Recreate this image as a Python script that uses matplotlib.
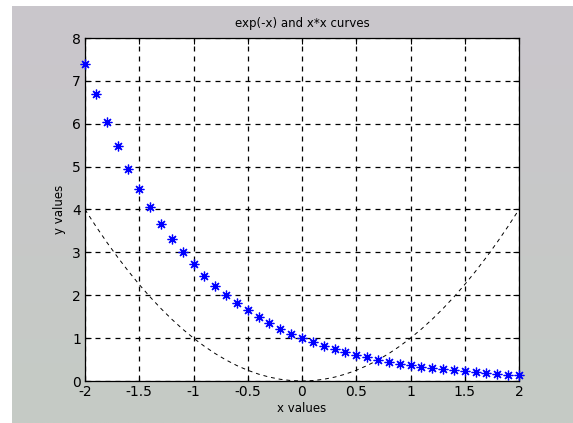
import numpy as np
import matplotlib
matplotlib.use("Agg")
import matplotlib.pyplot as plt

# sample points, step 0.1 from -2 to 2
x_vals = [-2.0, -1.9, -1.8, -1.7, -1.6, -1.5, -1.4, -1.3, -1.2, -1.1, -1.0,
          -0.9, -0.8, -0.7, -0.6, -0.5, -0.4, -0.3, -0.2, -0.1, 0.0,
          0.1, 0.2, 0.3, 0.4, 0.5, 0.6, 0.7, 0.8, 0.9, 1.0,
          1.1, 1.2, 1.3, 1.4, 1.5, 1.6, 1.7, 1.8, 1.9, 2.0]
exp_vals = [7.389, 6.686, 6.050, 5.474, 4.953, 4.482, 4.055, 3.669, 3.320, 3.004, 2.718,
            2.460, 2.226, 2.014, 1.822, 1.649, 1.492, 1.350, 1.221, 1.105, 1.000,
            0.905, 0.819, 0.741, 0.670, 0.607, 0.549, 0.497, 0.449, 0.407, 0.368,
            0.333, 0.301, 0.273, 0.247, 0.223, 0.202, 0.183, 0.165, 0.150, 0.135]
sq_vals = [4.00, 3.61, 3.24, 2.89, 2.56, 2.25, 1.96, 1.69, 1.44, 1.21, 1.00,
           0.81, 0.64, 0.49, 0.36, 0.25, 0.16, 0.09, 0.04, 0.01, 0.00,
           0.01, 0.04, 0.09, 0.16, 0.25, 0.36, 0.49, 0.64, 0.81, 1.00,
           1.21, 1.44, 1.69, 1.96, 2.25, 2.56, 2.89, 3.24, 3.61, 4.00]
x_ticks = [-2, -1.5, -1, -0.5, 0, 0.5, 1, 1.5, 2]
x_ticklabels = ["-2", "-1.5", "-1", "-0.5", "0", "0.5", "1", "1.5", "2"]
y_ticks = [0, 1, 2, 3, 4, 5, 6, 7, 8]

W, H = 573, 423
fig = plt.figure(figsize=(W / 100, H / 100), dpi=100)
fig.patch.set_facecolor("white")

# gray window panel with a faint top-to-bottom tint
bg = fig.add_axes([12 / W, 0, 1 - 12 / W, 1 - 6 / H], zorder=-10)
top = np.array([202, 198, 204]) / 255
bot = np.array([197, 203, 197]) / 255
t = np.linspace(0, 1, 256)[:, None]
grad = top[None, None, :] * (1 - t[..., None]) + bot[None, None, :] * t[..., None]
bg.imshow(np.repeat(grad, 2, axis=1), aspect="auto", extent=[0, 1, 0, 1])
bg.set_axis_off()

ax = fig.add_axes([85 / W, 1 - 381 / H, (519 - 85) / W, (381 - 38) / H])
ax.set_facecolor("white")

ax.plot(x_vals, sq_vals, color="black", lw=0.7, ls=(0, (4, 4)), zorder=3)
ax.plot(x_vals, exp_vals, ls="none", marker=(8, 2, 0), markersize=7,
        markeredgewidth=0.9, color="blue", markeredgecolor="blue", zorder=4,
        clip_on=False)

ax.set_xlim(-2, 2)
ax.set_ylim(0, 8)
ax.set_xticks(x_ticks)
ax.set_xticklabels(x_ticklabels)
ax.set_yticks(y_ticks)
ax.grid(True, color="black", lw=0.9, ls=(0, (4, 4)))
ax.tick_params(direction="in", length=4, width=0.8, top=True, right=True,
               labelsize=10, pad=3)
for s in ax.spines.values():
    s.set_linewidth(0.9)

ax.set_title("exp(-x) and x*x curves", fontsize=8.5, pad=8)
ax.set_xlabel("x values", fontsize=8.5, labelpad=2)
ax.set_ylabel("y values", fontsize=8.5, labelpad=4)

fig.savefig("out.png", dpi=100)
